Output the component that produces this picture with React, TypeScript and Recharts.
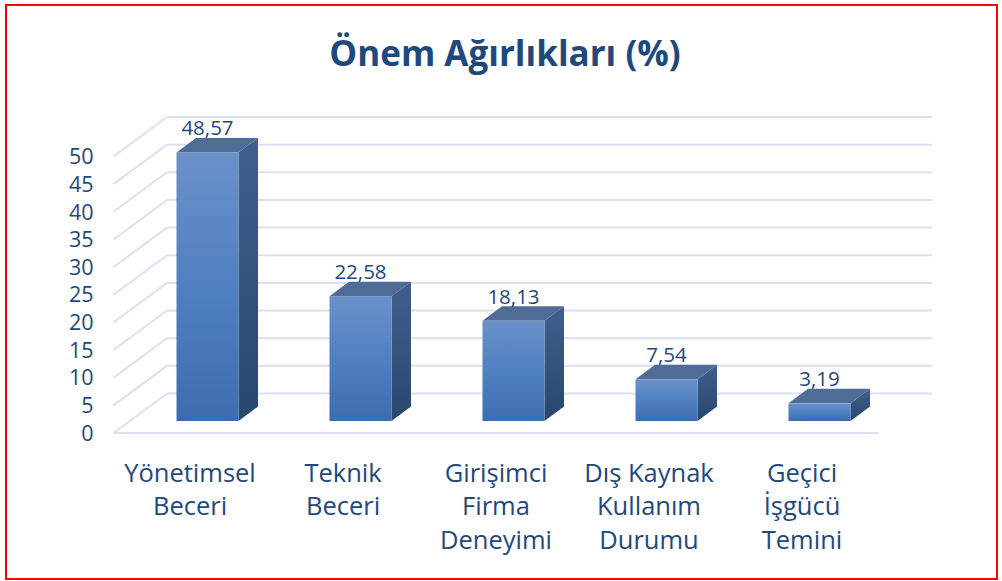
import { BarChart, Bar, XAxis, YAxis, CartesianGrid, LabelList } from 'recharts';

// data
const categories = [
  'Yönetimsel\nBeceri',
  'Teknik\nBeceri',
  'Girişimci\nFirma\nDeneyimi',
  'Dış Kaynak\nKullanım\nDurumu',
  'Geçici\nİşgücü\nTemini',
];
const weights = [48.57, 22.58, 18.13, 7.54, 3.19];
const yTicks = [0, 5, 10, 15, 20, 25, 30, 35, 40, 45, 50];

const data = categories.map((name, i) => ({ name, value: weights[i] }));

const W = 1002;
const H = 581;
const Y_AXIS_W = 40;
const X_AXIS_H = 30;
// plot area = the plane where the bar fronts sit
const PLOT = { left: 130.5, right: 895.5, top: 144.5, bottom: 421 };
const MARGIN = {
  top: PLOT.top,
  right: W - PLOT.right,
  bottom: H - PLOT.bottom - X_AXIS_H,
  left: PLOT.left - Y_AXIS_W,
};
// oblique "3d" offsets from the bar plane
const FRONT = { dx: -17, dy: 12 };
const BACK = { dx: 36.5, dy: -27.5 };
const DEPTH = { dx: 19.5, dy: -14.5 };

const TEXT = '#1F497D';
const GRID = '#d9e2f2';
const FONT = '"Open Sans", sans-serif';

const fmt = (v: number) => v.toFixed(2).replace('.', ',');

const GridLine = (props: any) => {
  const { x1, x2, y1, index } = props;
  const by = y1 + BACK.dy;
  const fy = y1 + FRONT.dy;
  const isFloor = Math.abs(y1 - PLOT.bottom) < 1;
  return (
    <g key={`grid-${index}`}>
      <line x1={x1 + FRONT.dx} y1={fy} x2={x1 + BACK.dx} y2={by} stroke={GRID} strokeWidth={2} />
      <line x1={x1 + BACK.dx} y1={by} x2={x2 + BACK.dx} y2={by} stroke={GRID} strokeWidth={2} />
      {isFloor && (
        <line x1={x1 + FRONT.dx} y1={fy} x2={x2 + FRONT.dx} y2={fy} stroke={GRID} strokeWidth={2} />
      )}
    </g>
  );
};

const Bar3D = (props: any) => {
  const { x, y, width, height } = props;
  const { dx, dy } = DEPTH;
  const r = x + width;
  return (
    <g>
      <polygon
        points={`${r},${y} ${r + dx},${y + dy} ${r + dx},${y + height + dy} ${r},${y + height}`}
        fill="url(#sideGrad)"
      />
      <polygon
        points={`${x},${y} ${x + dx},${y + dy} ${r + dx},${y + dy} ${r},${y}`}
        fill="#4f6c96"
      />
      <rect x={x} y={y} width={width} height={height} fill="url(#frontGrad)" />
    </g>
  );
};

const YTick = (props: any) => {
  const { y, payload } = props;
  return (
    <text
      x={PLOT.left + FRONT.dx - 20}
      y={y + FRONT.dy}
      dy="0.36em"
      textAnchor="end"
      fill={TEXT}
      fontSize={21.5}
      fontFamily={FONT}
    >
      {payload.value}
    </text>
  );
};

const XTick = (props: any) => {
  const { x, payload } = props;
  const lines = String(payload.value).split('\n');
  return (
    <text textAnchor="middle" fill={TEXT} fontSize={25.5} fontFamily={FONT}>
      {lines.map((ln, i) => (
        <tspan key={i} x={x + FRONT.dx} y={PLOT.bottom + 60.5 + i * 33.5}>
          {ln}
        </tspan>
      ))}
    </text>
  );
};

const ValueLabel = (props: any) => {
  const { x, y, width, value } = props;
  return (
    <text
      x={x + width / 2}
      y={y + DEPTH.dy - 2.5}
      textAnchor="middle"
      fill={TEXT}
      fontSize={20.5}
      fontFamily={FONT}
    >
      {fmt(value)}
    </text>
  );
};

export default function App() {
  return (
    <div style={{ position: 'absolute', left: 0, top: 0, width: W, height: H, background: '#fff' }}>
      <BarChart width={W} height={H} data={data} margin={MARGIN} barSize={62}>
        <defs>
          <linearGradient id="frontGrad" x1="0" y1="0" x2="0" y2="1">
            <stop offset="0%" stopColor="#6b91ca" />
            <stop offset="50%" stopColor="#4f80c1" />
            <stop offset="100%" stopColor="#3d6daf" />
          </linearGradient>
          <linearGradient id="sideGrad" x1="0" y1="0" x2="0" y2="1">
            <stop offset="0%" stopColor="#415f8b" />
            <stop offset="100%" stopColor="#28476f" />
          </linearGradient>
        </defs>
        <CartesianGrid vertical={false} horizontal={GridLine} />
        <XAxis
          dataKey="name"
          height={X_AXIS_H}
          axisLine={false}
          tickLine={false}
          interval={0}
          tick={<XTick />}
        />
        <YAxis
          width={Y_AXIS_W}
          domain={[0, 50]}
          ticks={yTicks}
          axisLine={false}
          tickLine={false}
          tick={<YTick />}
        />
        <Bar dataKey="value" shape={<Bar3D />} isAnimationActive={false}>
          <LabelList dataKey="value" content={<ValueLabel />} />
        </Bar>
      </BarChart>
      <svg
        width={W}
        height={H}
        style={{ position: 'absolute', left: 0, top: 0, pointerEvents: 'none' }}
      >
        <rect x={6} y={5} width={991} height={574} fill="none" stroke="#ff0000" strokeWidth={2} />
        <text
          x={505}
          y={66}
          textAnchor="middle"
          fill={TEXT}
          fontSize={35}
          fontWeight="bold"
          fontFamily={FONT}
        >
          Önem Ağırlıkları (%)
        </text>
      </svg>
    </div>
  );
}
